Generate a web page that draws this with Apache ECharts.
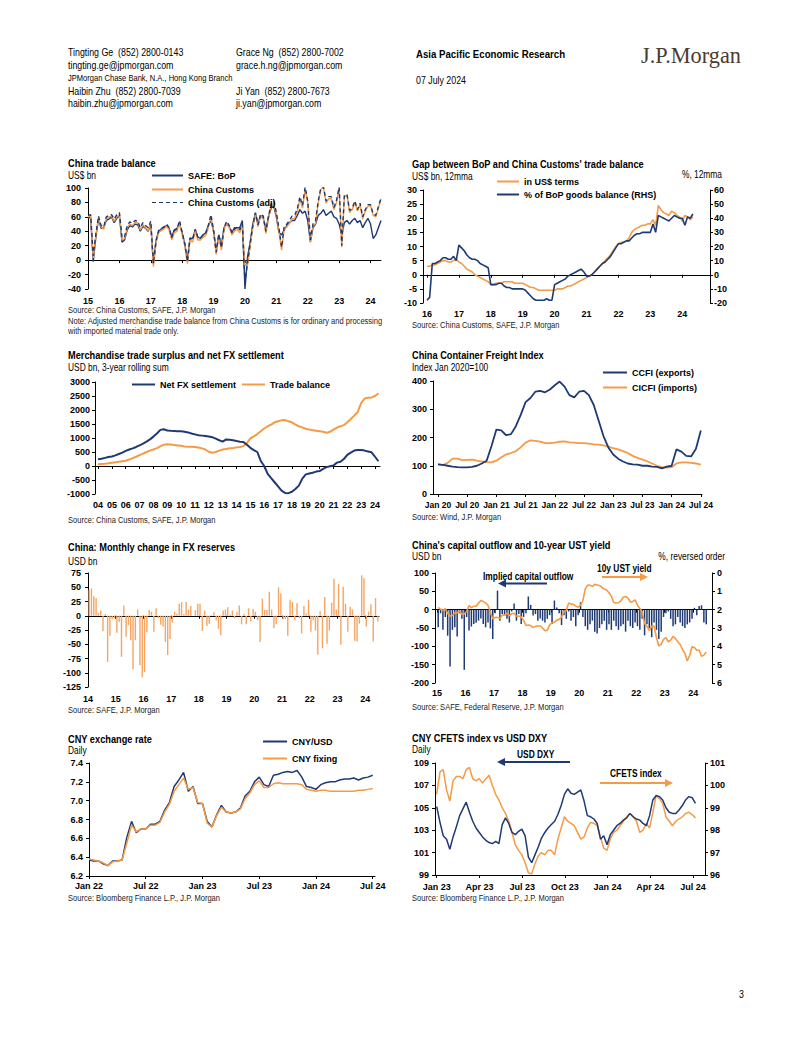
<!DOCTYPE html>
<html><head><meta charset="utf-8">
<script src="https://cdn.jsdelivr.net/npm/echarts@6/dist/echarts.min.js"></script>
<style>html,body{margin:0;padding:0;background:#fff;} #c{width:802px;height:1037px;}</style>
</head><body><div id="c"></div>
<script>
// ---------------- DATA ----------------
// Chart 1: China trade balance, monthly from Jan 2015 (US$ bn)
const tbBop = [58,60,-2,32,57,44,45,55,57,60,52,58, 62,25,28,42,48,46,50,49,40,47,44,40, 50,-5,26,40,43,45,48,44,32,42,44,50, 38,22,0,30,30,42,32,30,35,38,48,55, 40,12,35,20,45,50,46,38,45,45,45,55, -40,5,25,50,65,50,62,58,42,60,72,75, 60,38,35,42,48,52,55,55,62,70,65,68, 55,25,45,50,62,65,70,62,65,68,60,58, 50,35,52,55,50,55,58,52,55,45,52,58, 50,30,35,45,55];
const tbCustoms = [60,62,3,34,59,46,43,58,60,61,54,60, 63,28,30,45,50,48,52,52,42,49,45,41, 51,-9,24,38,41,43,47,42,28,38,40,52, 35,20,-5,28,25,40,28,28,32,34,45,60, 39,8,33,14,42,51,45,35,40,43,38,47, -7,-7,20,45,63,46,62,59,37,58,75,78, 63,40,14,43,46,51,57,58,67,85,72,98, 80,25,47,51,79,98,101,79,85,85,70,80, 100,18,88,90,66,70,80,68,77,57,68,75, 75,62,60,72,85];
const tbCustomsAdj = [62,63,6,36,61,48,46,60,62,63,57,63, 66,31,33,48,53,51,55,54,45,52,48,45, 54,-5,27,41,44,46,50,45,31,41,43,55, 38,23,-2,31,28,43,31,31,35,37,48,63, 42,11,36,17,45,54,48,38,43,46,42,50, -30,-3,23,48,66,49,64,61,40,61,78,82, 66,44,18,47,50,55,61,62,71,88,76,101, 82,28,50,55,82,100,102,82,88,88,73,83, 101,20,90,91,69,72,82,70,79,60,70,77, 77,64,62,74,86];
const tbYearTicks = [2015,2016,2017,2018,2019,2020,2021,2022,2023,2024];

// Chart 2: gap between BoP and customs, monthly from Jan 2016
const gapUsd = [3,3,3.5,3.5,4,4.5,5,5,4.5,4.5,5,5.5, 4.5,4,3,2,1.5,1,0,-0.5,-1,-1.5,-2,-2.5, -3.5,-3.5,-3,-3,-3,-2.5,-2.5,-2.5,-2.5,-3,-3,-3, -3,-3.5,-4,-4.5,-4.5,-5,-5.5,-5.5,-5.5,-5.5,-5.5,-5.5, -5.5,-5,-5,-5,-4.5,-4,-4,-3.5,-3,-2.5,-2,-1.5, -1,-0.5,0,1,2,3,4,5,6,7,8.5,10, 11,11.5,11.5,12,13,15,16,16.5,17,17.5,17.5,18, 18,19.5,17.5,24.5,23,22,21.5,21,22.5,22,21,20.5, 19,21,20.5,19.5,20.5];
const gapPct = [-18,-16,8,8,9,10,12,12,11,11,13,10, 21,19,17,14,12,11,11,10,8,7,6,5, -7,-7,-7,-6,-6,-8,-9,-9,-10,-10,-10,-10, -10,-11,-13,-15,-17,-18,-18,-18,-18,-17,-18,-18, -7,-6,-5,-4,-3,-1,0,1,2,3,4,2, -1,-1,0,2,4,6,8,9,11,13,16,19, 22,22,23,24,24,26,28,29,29,30,30,30, 30,36,30,42,41,40,39,38,40,42,41,40, 40,35,41,40,43];
const gapYearTicks = [2016,2017,2018,2019,2020,2021,2022,2023,2024];

// Chart 3: 3-year rolling sums, quarterly from 2004Q1 (USD bn)
const netFx = [240,260,290,320, 340,380,430,480, 540,590,630,680, 740,800,870,950, 1050,1160,1290,1310, 1270,1255,1250,1245, 1240,1225,1200,1160, 1130,1100,1085,1070, 1050,1030,980,920, 870,950,940,920, 890,870,860,760, 650,570,500,180, 0,-280,-430,-580, -730,-880,-960,-970, -920,-820,-700,-450, -300,-270,-240,-200, -180,-100,-40,-10, 20,120,150,250, 400,480,550,570, 570,550,520,490, 330,170];
const tradeBal = [60,70,80,95, 115,130,150,170, 190,230,280,330, 390,440,500,550, 590,640,700,760, 780,770,750,735, 720,700,690,690, 680,660,630,590, 510,475,500,550, 590,610,630,645, 665,680,710,820, 985,1060,1140,1240, 1340,1420,1480,1560, 1600,1630,1640,1600, 1560,1480,1420,1380, 1330,1300,1280,1260, 1240,1220,1190,1220, 1300,1370,1420,1460, 1560,1680,1800,1930, 2250,2410,2440,2450, 2500,2600];
const mtsYearTicks = [2004,2005,2006,2007,2008,2009,2010,2011,2012,2013,2014,2015,2016,2017,2018,2019,2020,2021,2022,2023,2024];

// Chart 4: container freight indices, monthly from Jan 2020
const ccfi = [105,103,100,97,95,94,94,96,100,108,118,170, 228,225,208,212,240,280,325,340,362,365,360,370, 385,398,380,350,342,362,365,350,315,260,205,165, 140,125,115,108,105,104,100,100,97,96,91,97, 100,158,150,135,133,160,225];
const cicfi = [105,102,110,125,125,120,121,122,118,115,113,112, 118,130,140,145,152,165,182,190,188,185,180,180, 182,185,186,183,182,180,180,178,176,175,172,168, 162,158,152,145,135,128,122,116,108,100,95,93, 95,108,112,112,110,108,104];
const cfTicks = [2020,2020.5,2021,2021.5,2022,2022.5,2023,2023.5,2024,2024.5];

// Chart 5: monthly change in FX reserves from Jan 2014 (USD bn)
const fxResChg = [45,48,34,31,5,9,-27,3,-81,-35,-6,-4, -30,-11,-72,18,-37,-17,-43,-94,-43,11,-87,-108, -99,-29,10,7,-28,13,-4,-16,-19,-46,-69,-41, -12,7,4,21,24,3,24,11,17,0,10,21, 21,-27,9,-18,-14,1,6,-8,-23,-34,9,11, 15,2,9,-4,6,18,-15,3,-15,13,-10,12, 7,-8,-46,30,10,10,42,11,-22,-15,50,39, -6,-6,-35,28,24,-8,22,-4,-31,17,4,28, -28,-8,-26,-68,8,-57,33,-49,-26,23,65,11, 56,-51,51,21,-28,16,11,-44,-45,-14,71,66, -19,7,20,-45,31,-10];
const fxYearTicks = [2014,2015,2016,2017,2018,2019,2020,2021,2022,2023,2024];

// Chart 6: implied capital outflow (USD bn) and 10y UST yield (%), monthly from Jan 2015
const capFlow = [-48,-10,-55,-20,-71,-155,-55,-48,-73,-10,-25,-164, -20,-57,-46,-39,-36,-30,-24,-39,-48,-35,-51,-80, -10,52,-30,-12,-16,-25,-35,-5,17,-30,-12,-39, -20,-10,36,13,-16,-12,-30,-24,-30,-35,-25,-15, -39,25,6,-10,-42,-15,-25,-5,-30,-20,-45,-15, 20,-20,-45,-55,-40,-30,-60,-65,-50,-40,-30,-55, -40,-55,-30,-45,-55,-45,-40,-60,-30,-45,-50,-35, -45,-55,-25,-70,-40,-50,-75,-35,-55,-80,-60,-20, -10,-5,-25,-45,-40,-20,-35,-45,-50,-40,-35,-25, 5,-15,10,12,-35,-40];
const ust10y = [1.88,1.98,2.04,1.94,2.20,2.36,2.32,2.17,2.17,2.07,2.26,2.24, 2.09,1.78,1.89,1.81,1.81,1.64,1.50,1.56,1.63,1.76,2.14,2.49, 2.43,2.42,2.48,2.30,2.30,2.19,2.32,2.21,2.20,2.36,2.35,2.40, 2.58,2.86,2.84,2.87,2.98,2.91,2.89,2.89,3.00,3.15,3.12,2.83, 2.71,2.68,2.57,2.53,2.40,2.07,2.06,1.63,1.70,1.71,1.81,1.86, 1.76,1.50,0.87,0.66,0.67,0.73,0.62,0.65,0.68,0.79,0.87,0.93, 1.08,1.26,1.61,1.64,1.62,1.52,1.32,1.28,1.37,1.58,1.56,1.47, 1.76,1.93,2.13,2.75,2.90,3.14,2.90,2.90,3.52,3.98,3.89,3.62, 3.53,3.75,3.66,3.46,3.57,3.75,3.90,4.17,4.38,4.80,4.50,4.02, 4.06,4.21,4.21,4.54,4.48,4.31];
const coYearTicks = [2015,2016,2017,2018,2019,2020,2021,2022,2023,2024];

// Chart 7: CNY, twice-monthly readings from Jan 2022
const cnyUsd = [6.37,6.36,6.36,6.33,6.31,6.36,6.36,6.37,6.61,6.78,6.66,6.70, 6.70,6.75,6.75,6.78,6.90,6.98,7.15,7.22,7.30,7.10,7.15,6.97, 6.97,6.78,6.72,6.85,6.95,6.88,6.87,6.88,6.92,7.05,7.10,7.20, 7.25,7.17,7.15,7.27,7.28,7.30,7.31,7.30,7.32,7.25,7.15,7.14, 7.12,7.17,7.19,7.20,7.20,7.22,7.23,7.23,7.24,7.22,7.24,7.25, 7.27];
const cnyFix = [6.38,6.37,6.36,6.34,6.31,6.35,6.36,6.37,6.55,6.74,6.67,6.70, 6.70,6.74,6.74,6.77,6.88,6.96,7.10,7.17,7.24,7.12,7.14,6.98, 6.97,6.76,6.72,6.84,6.93,6.88,6.87,6.88,6.91,7.02,7.08,7.17, 7.21,7.14,7.14,7.18,7.19,7.18,7.18,7.18,7.18,7.17,7.12,7.11, 7.10,7.11,7.11,7.10,7.10,7.10,7.10,7.10,7.10,7.11,7.11,7.12, 7.13];
const cnyTicks = [2022,2022.5,2023,2023.5,2024,2024.5];

// Chart 8: USD DXY and CFETS index, weekly from early Jan 2023
const dxy = [105.1,103.7,102.5,102.2,101.3,102.4,103.3,104.3,104.9,105.5, 104.6,103.8,103.2,102.8,102.4,102.1,101.9,101.8,102.0,101.8, 103.5,104.1,103.6,102.8,102.6,102.9,103.1,102.5,100.6,100.1, 100.8,101.5,102.3,102.8,103.2,103.5,103.8,104.4,105.2,106.2, 106.7,106.3,106.2,106.4,106.6,105.6,104.3,104.2,104.0,103.6, 102.2,102.5,101.7,102.6,103.0,103.4,103.6,103.9,104.1,104.5, 104.2,104.0,103.9,103.6,103.4,104.3,105.7,106.1,106.0,105.7, 105.0,104.6,104.5,104.5,104.8,105.2,105.7,106.0,105.9,105.4];
const cfets = [99.6,100.6,100.7,99.8,99.3,100.2,100.4,100.4,100.3,100.7, 100.8,100.3,100.2,100.3,100.1,100.3,100.45,100.0,99.6,99.35, 99.0,98.75,98.4,97.9,97.35,97.1,96.9,96.55,96.1,96.05, 96.5,96.85,97.0,96.9,97.1,97.1,96.9,97.6,98.1,98.6, 98.4,98.3,98.2,97.9,97.6,97.7,98.1,98.35,98.3,98.2, 97.7,97.2,97.1,97.6,97.9,98.0,98.2,98.4,98.6,98.75, 98.6,98.4,97.9,98.0,98.3,98.1,98.8,99.55,99.4,99.2, 98.6,98.4,98.2,98.4,98.5,98.6,98.75,98.8,98.7,98.55];
const dxyTicks = [2023,2023.25,2023.5,2023.75,2024,2024.25,2024.5];

// ---------------- BUILD ----------------
const FONT = "'Liberation Sans',Arial,sans-serif";
const SX = 0.84; // horizontal squeeze for narrow-looking text
const NAVY = '#1f3a73', ORANGE = '#f59a45', BARO = '#f6a562';
const TICKFS = 9;
const grids=[], xAxes=[], yAxes=[], series=[], legends=[], graphics=[];
const yy = v => String(Math.round(v) % 100).padStart(2,'0');
const MON = ['Jan','Apr','Jul','Oct'];
const halfFmt = v => (v - Math.floor(v) < 0.25 ? 'Jan ' : 'Jul ') + yy(Math.floor(v));
const qFmt = v => MON[Math.round((v - Math.floor(v))*4)] + ' ' + yy(Math.floor(v));
const monthly = (start, arr, off) => arr.map((v,i)=>[start + (i+(off||0))/12, v]);
const DASH_ICON = 'path://M0,0h4v1h-4zM7,0h4v1h-4zM14,0h4v1h-4zM21,0h4v1h-4zM28,0h3v1h-3z';

function addGrid(left, top, width, height){ grids.push({left, top, width, height, containLabel:false, outerBoundsMode:'none'}); return grids.length-1; }
function yAx(g, min, max, interval, o){
  o = o || {};
  const lab = {show:true, fontFamily:FONT, fontWeight:'bold', fontSize:TICKFS, color:'#000', margin:(o.margin!=null?o.margin:6), formatter: o.formatter || (v => String(v)), showMinLabel:true, showMaxLabel:true};
  yAxes.push({type:'value', gridIndex:g, min, max, interval, position:o.position||'left', inverse:!!o.inverse,
    axisLine:{show:true, onZero:false, lineStyle:{color:'#000', width:1}},
    axisTick:{show:true, length:3, lineStyle:{color:'#000'}},
    axisLabel:lab, splitLine:{show:false}});
  return yAxes.length-1;
}
function xLab(g, min, max, vals, fmt, margin, fs){
  xAxes.push({type:'value', gridIndex:g, min, max, position:'bottom',
    axisLine:{show:false, onZero:false}, axisTick:{show:false},
    axisLabel:{show:true, customValues:vals, formatter:fmt, fontFamily:FONT, fontWeight:'bold', fontSize:fs||TICKFS, color:'#000', margin, hideOverlap:false, showMinLabel:true, showMaxLabel:true},
    splitLine:{show:false}});
  return xAxes.length-1;
}
function xLine(g, min, max, vals, onZero, yIdx){
  xAxes.push({type:'value', gridIndex:g, min, max, position:'bottom',
    axisLine:{show:true, onZero:onZero, onZeroAxisIndex:yIdx, lineStyle:{color:'#000', width:1}},
    axisTick:{show:true, customValues:vals, length:3, lineStyle:{color:'#000'}},
    axisLabel:{show:false}, splitLine:{show:false}});
  return xAxes.length-1;
}
function line(name, xi, yi, data, color, width, dash, z){
  series.push({type:'line', name, xAxisIndex:xi, yAxisIndex:yi, data, symbol:'none', showSymbol:false,
    lineStyle:{color, width, type: dash || 'solid'}, itemStyle:{color}, z: z||2, silent:true, animation:false});
}
function bars(xi, yi, data, color, w){
  series.push({type:'bar', xAxisIndex:xi, yAxisIndex:yi, data, barWidth:w, itemStyle:{color}, silent:true, animation:false});
}
function leg(name, left, cy, w, dashed){
  legends.push({left, top: cy-4, padding:0, itemWidth:w, itemHeight:2, data:[{name, icon: dashed ? DASH_ICON : 'rect'}], selectedMode:false,
    textStyle:{fontFamily:FONT, fontWeight:'bold', fontSize:9, color:'#000'}});
}
function txt(text, x, y, size, weight, o){
  o = o || {};
  graphics.push({type:'text', x, y, scaleX:(o.sx!=null?o.sx:SX), silent:true, style:{text, font:(weight||'normal')+' '+size+'px '+(o.family||FONT), fill:o.color||'#000', align:o.align||'left', verticalAlign:'middle'}});
}
function arrow(x1, x2, y, color){
  const dir = x2 < x1 ? 1 : -1;
  graphics.push({type:'line', silent:true, shape:{x1, y1:y, x2:x2+dir*6, y2:y}, style:{stroke:color, lineWidth:2}});
  graphics.push({type:'polygon', silent:true, shape:{points:[[x2,y],[x2+dir*8,y-4],[x2+dir*8,y+4]]}, style:{fill:color}});
}
const SRC = {color:'#222'};

// Header
txt('Tingting Ge\u00a0\u00a0(852) 2800-0143', 68, 52, 10.5);
txt('tingting.ge@jpmorgan.com', 68, 65, 10.5);
txt('JPMorgan Chase Bank, N.A., Hong Kong Branch', 68, 78, 9);
txt('Haibin Zhu\u00a0\u00a0(852) 2800-7039', 68, 91, 10.5);
txt('haibin.zhu@jpmorgan.com', 68, 103, 10.5);
txt('Grace Ng\u00a0\u00a0(852) 2800-7002', 236, 52, 10.5);
txt('grace.h.ng@jpmorgan.com', 236, 65, 10.5);
txt('Ji Yan\u00a0\u00a0(852) 2800-7673', 236, 91, 10.5);
txt('ji.yan@jpmorgan.com', 236, 103, 10.5);
txt('Asia Pacific Economic Research', 416, 54, 11.5, 'bold');
txt('07 July 2024', 416, 80, 10.5);
txt('J.P.Morgan', 641, 55, 23, 'normal', {family:"'Liberation Serif','DejaVu Serif',serif", color:'#4a3b30', sx:0.97});
txt('3', 739, 994, 10.5);

// Chart 1
{
  const g = addGrid(88,188,293,101);
  const y = yAx(g,-40,100,20,{margin:7});
  const xl = xLab(g,2015,2024.3333,tbYearTicks,yy,7);
  xLine(g,2015,2024.3333,tbYearTicks,true,y);
  line('SAFE: BoP', xl, y, monthly(2015,tbBop), NAVY, 1.4);
  line('China Customs', xl, y, monthly(2015,tbCustoms), ORANGE, 1.4);
  line('China Customs (adj)', xl, y, monthly(2015,tbCustomsAdj), NAVY, 1.4, [4,3], 3);
  leg('SAFE: BoP',152,175,31); leg('China Customs',152,189,31); leg('China Customs (adj)',152,202,31,true);
  txt('China trade balance',68,163,11,'bold');
  txt('US$ bn',68,176,10);
  txt('Source: China Customs, SAFE, J.P. Morgan',68,309.5,9,'normal',SRC);
  txt('Note: Adjusted merchandise trade balance from China Customs is for ordinary and processing',68,320.5,9,'normal',SRC);
  txt('with imported material trade only.',68,330.5,9,'normal',SRC);
}
// Chart 2
{
  const g = addGrid(423,190,287,113);
  const yl = yAx(g,-10,30,5,{margin:6});
  const yr = yAx(g,-20,60,10,{position:'right',margin:4});
  const xl = xLab(g,2015.875,2024.87,gapYearTicks,yy,6);
  xLine(g,2015.875,2024.87,gapYearTicks,true,yl);
  line('in US$ terms', xl, yl, monthly(2016,gapUsd), ORANGE, 1.6);
  line('% of BoP goods balance (RHS)', xl, yr, monthly(2016,gapPct), NAVY, 1.6, null, 3);
  leg('in US$ terms',497,181,22); leg('% of BoP goods balance (RHS)',497,194,22);
  txt("Gap between BoP and China Customs' trade balance",412,164,11,'bold');
  txt('US$ bn, 12mma',412,177,10);
  txt('%, 12mma',722,175,10,'normal',{align:'right'});
  txt('Source: China Customs, SAFE, J.P. Morgan',412,325,9,'normal',SRC);
}
// Chart 3
{
  const g = addGrid(95,382,285,112);
  const y = yAx(g,-1000,3000,500,{margin:5});
  const xl = xLab(g,2003.78,2024.36,mtsYearTicks,yy,6);
  xLine(g,2003.78,2024.36,mtsYearTicks,true,y);
  line('Net FX settlement', xl, y, netFx.map((v,i)=>[2004+i/4,v]), NAVY, 2, null, 3);
  line('Trade balance', xl, y, tradeBal.map((v,i)=>[2004+i/4,v]), ORANGE, 2);
  leg('Net FX settlement',132,384,23); leg('Trade balance',242,384,23);
  txt('Merchandise trade surplus and net FX settlement',68,355,11,'bold');
  txt('USD bn, 3-year rolling sum',68,368,10);
  txt('Source: China Customs, SAFE, J.P. Morgan',68,520,9,'normal',SRC);
}
// Chart 4
{
  const g = addGrid(433,381,269,113);
  const y = yAx(g,0,400,100,{margin:6});
  const xl = xLab(g,2019.915,2024.52,cfTicks,halfFmt,6,8.5);
  xLine(g,2019.915,2024.52,cfTicks,false,y);
  line('CICFI (imports)', xl, y, monthly(2020,cicfi), ORANGE, 1.8);
  line('CCFI (exports)', xl, y, monthly(2020,ccfi), NAVY, 1.8, null, 3);
  leg('CCFI (exports)',603,372,24); leg('CICFI (imports)',603,387,24);
  txt('China Container Freight Index',412,355,11,'bold');
  txt('Index Jan 2020=100',412,368,10);
  txt('Source: Wind, J.P. Morgan',412,517,9,'normal',SRC);
}
// Chart 5
{
  const g = addGrid(88,573,291,114);
  const y = yAx(g,-125,75,25,{margin:7});
  const xl = xLab(g,2014,2024.5,fxYearTicks,yy,7.5);
  xLine(g,2014,2024.5,fxYearTicks,true,y);
  bars(xl, y, monthly(2014,fxResChg,0.5), BARO, 1.4);
  txt('China: Monthly change in FX reserves',68,547,11,'bold');
  txt('USD bn',68,562,10);
  txt('Source: SAFE, J.P. Morgan',68,709.5,9,'normal',SRC);
}
// Chart 6
{
  const g = addGrid(435,573,277,110);
  const yl = yAx(g,-200,100,50,{margin:6});
  const yr = yAx(g,0,6,1,{position:'right',inverse:true,margin:5});
  const xl = xLab(g,2014.93,2024.66,coYearTicks,yy,5);
  xLine(g,2014.93,2024.66,coYearTicks,true,yl);
  bars(xl, yl, monthly(2015,capFlow,0.5), NAVY, 1.5);
  line('10y UST yield', xl, yr, monthly(2015,ust10y,0.5), ORANGE, 1.6, null, 3);
  txt("China's capital outflow and 10-year UST yield",412,545,11,'bold');
  txt('USD bn',412,557,10);
  txt('%, reversed order',725,557,10,'normal',{align:'right'});
  txt('Implied capital outflow',483,577,10,'bold');
  arrow(547,498,583.5,NAVY);
  txt('10y UST yield',597,569,10,'bold');
  arrow(602,648,577,ORANGE);
  txt('Source: SAFE, Federal Reserve, J.P. Morgan',412,707,9,'normal',SRC);
}
// Chart 7
{
  const g = addGrid(89,763,286,113);
  const y = yAx(g,6.2,7.4,0.2,{margin:6, formatter:v=>v.toFixed(1)});
  const xl = xLab(g,2022,2024.52,cnyTicks,halfFmt,5);
  xLine(g,2022,2024.52,cnyTicks,false,y);
  line('CNY/USD', xl, y, cnyUsd.map((v,i)=>[2022+i/24,v]), NAVY, 1.5);
  line('CNY fixing', xl, y, cnyFix.map((v,i)=>[2022+i/24,v]), ORANGE, 1.5, null, 3);
  leg('CNY/USD',263,741,24); leg('CNY fixing',263,758,24);
  txt('CNY exchange rate',68,739,11,'bold');
  txt('Daily',68,751,10);
  txt('Source: Bloomberg Finance L.P., J.P. Morgan',68,898,9,'normal',SRC);
}
// Chart 8
{
  const g = addGrid(435,763,270,112);
  const yl = yAx(g,99,109,2,{margin:6});
  const yr = yAx(g,96,101,1,{position:'right',margin:5});
  const xl = xLab(g,2022.99,2024.57,dxyTicks,qFmt,7);
  xLine(g,2022.99,2024.57,dxyTicks,false,yl);
  line('CFETS index', xl, yr, cfets.map((v,i)=>[2023+i*7/365.25,v]), ORANGE, 1.5);
  line('USD DXY', xl, yl, dxy.map((v,i)=>[2023+i*7/365.25,v]), NAVY, 1.5, null, 3);
  txt('CNY CFETS index vs USD DXY',412,738,11,'bold');
  txt('Daily',412,750,10);
  txt('USD DXY',517,755,10,'bold');
  arrow(570,497,762,NAVY);
  txt('CFETS index',610,774,10,'bold');
  arrow(600,673,783,ORANGE);
  txt('Source: Bloomberg Finance L.P., J.P. Morgan',412,898,9,'normal',SRC);
}

const chart = echarts.init(document.getElementById('c'), null, {renderer:'svg', width:802, height:1037});
chart.setOption({
  animation:false, backgroundColor:'#fff',
  textStyle:{fontFamily:FONT},
  grid:grids, xAxis:xAxes, yAxis:yAxes, series, legend:legends,
  graphic:{elements:graphics}
});
</script></body></html>
